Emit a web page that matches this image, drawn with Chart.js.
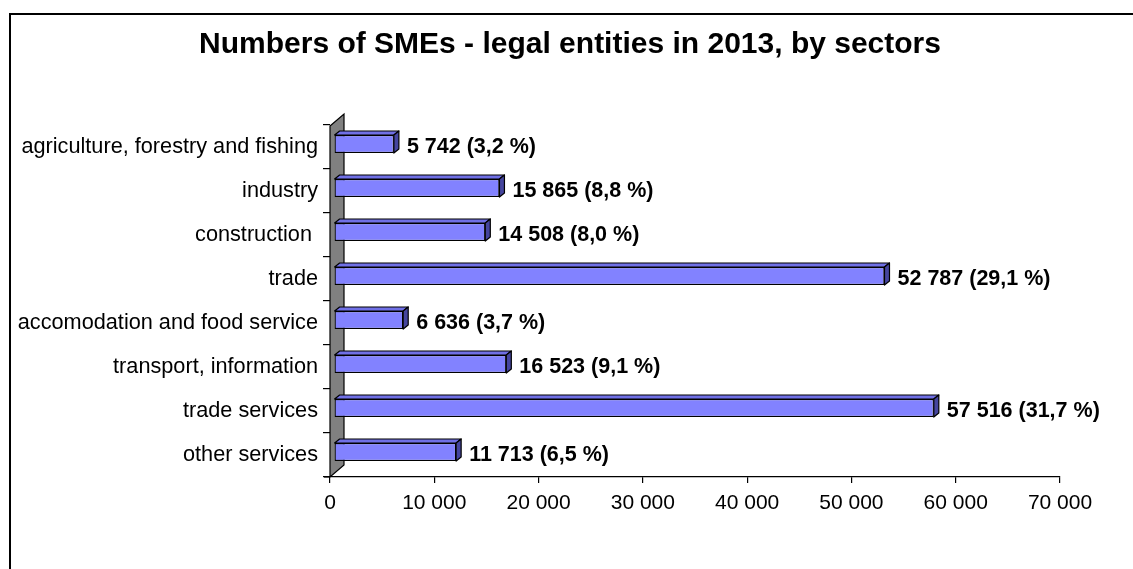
<!DOCTYPE html>
<html>
<head>
<meta charset="utf-8">
<script src="https://cdn.jsdelivr.net/npm/chart.js@4"></script>
<style>
    html, body { margin: 0; padding: 0; background: #fff; }
    #wrap { width: 1133px; height: 569px; }
</style>
</head>
<body>
<div id="wrap"><canvas id="smeChart" width="1133" height="569"></canvas></div>
<script>
const title = 'Numbers of SMEs - legal entities in 2013, by sectors';
const sectors = [
    'agriculture, forestry and fishing',
    'industry',
    'construction ',
    'trade',
    'accomodation and food service',
    'transport, information',
    'trade services',
    'other services'
];
const counts = [5742, 15865, 14508, 52787, 6636, 16523, 57516, 11713];
const shares = [3.2, 8.8, 8.0, 29.1, 3.7, 9.1, 31.7, 6.5];
const axisMax = 70000;
const axisStep = 10000;

const FONT = '"Liberation Sans", Arial, sans-serif';
const DEPTH = { x: 5, y: -4 };      // bar 3d depth
const WALL = { x: 14, y: -12 };     // back wall depth
const SHIFT = { x: 4, y: -3 };      // bars sit inside the wall depth

function fmtNum(v) {
    return String(v).replace(/\B(?=(\d{3})+(?!\d))/g, ' ');
}

function fmtLabel(i) {
    return fmtNum(counts[i]) + ' (' + shares[i].toFixed(1).replace('.', ',') + ' %)';
}

const framePlugin = {
    id: 'frame',
    beforeDraw(chart) {
        const ctx = chart.ctx;
        ctx.save();
        ctx.fillStyle = '#fff';
        ctx.fillRect(0, 0, chart.width, chart.height);
        ctx.lineWidth = 2;
        ctx.strokeStyle = '#000';
        ctx.strokeRect(10, 14, chart.width + 100, chart.height + 100);
        ctx.fillStyle = '#000';
        ctx.font = 'bold 30px ' + FONT;
        ctx.textAlign = 'center';
        ctx.textBaseline = 'middle';
        ctx.fillText(title, 570, 45);
        ctx.restore();
    }
};

const bar3dPlugin = {
    id: 'bar3d',
    beforeDatasetsDraw(chart) {
        const ctx = chart.ctx;
        const area = chart.chartArea;
        const x0 = chart.scales.x.getPixelForValue(0);
        ctx.save();
        // grey back wall
        ctx.beginPath();
        ctx.moveTo(x0, area.top + 1);
        ctx.lineTo(x0 + WALL.x, area.top + 1 + WALL.y);
        ctx.lineTo(x0 + WALL.x, area.bottom + WALL.y);
        ctx.lineTo(x0, area.bottom);
        ctx.closePath();
        ctx.fillStyle = '#808080';
        ctx.fill();
        ctx.lineWidth = 1.2;
        ctx.strokeStyle = '#000';
        ctx.stroke();
        // little stub of the floor line left of the wall
        ctx.beginPath();
        ctx.moveTo(x0 - 6, area.bottom);
        ctx.lineTo(x0, area.bottom);
        ctx.stroke();
        ctx.restore();

        ctx.save();
        ctx.translate(SHIFT.x, SHIFT.y);
    },
    afterDatasetsDraw(chart) {
        const ctx = chart.ctx;
        const meta = chart.getDatasetMeta(0);
        ctx.lineWidth = 1.2;
        ctx.strokeStyle = '#000';
        ctx.lineJoin = 'round';
        meta.data.forEach(bar => {
            const left = Math.min(bar.base, bar.x);
            const right = Math.max(bar.base, bar.x);
            const top = bar.y - bar.height / 2;
            const bottom = bar.y + bar.height / 2;

            ctx.beginPath();
            ctx.moveTo(left, top);
            ctx.lineTo(left + DEPTH.x, top + DEPTH.y);
            ctx.lineTo(right + DEPTH.x, top + DEPTH.y);
            ctx.lineTo(right, top);
            ctx.closePath();
            ctx.fillStyle = '#7070E6';
            ctx.fill();
            ctx.stroke();

            ctx.beginPath();
            ctx.moveTo(right, top);
            ctx.lineTo(right + DEPTH.x, top + DEPTH.y);
            ctx.lineTo(right + DEPTH.x, bottom + DEPTH.y);
            ctx.lineTo(right, bottom);
            ctx.closePath();
            ctx.fillStyle = '#45459E';
            ctx.fill();
            ctx.stroke();
        });
        ctx.restore();

        ctx.save();
        ctx.fillStyle = '#000';
        ctx.font = 'bold 21.5px ' + FONT;
        ctx.textAlign = 'left';
        ctx.textBaseline = 'middle';
        meta.data.forEach((bar, i) => {
            ctx.fillText(fmtLabel(i), bar.x + 17, bar.y);
        });
        ctx.restore();
    }
};

const ctx = document.getElementById('smeChart').getContext('2d');
new Chart(ctx, {
    type: 'bar',
    data: {
        labels: sectors,
        datasets: [{
            data: counts,
            backgroundColor: '#8282FF',
            borderColor: '#000',
            borderWidth: 1.2,
            borderSkipped: false,
            categoryPercentage: 1,
            barPercentage: 0.41
        }]
    },
    options: {
        indexAxis: 'y',
        responsive: false,
        animation: false,
        events: [],
        layout: { padding: { top: 125, left: 10, right: 73, bottom: 0 } },
        plugins: {
            legend: { display: false },
            title: { display: false },
            tooltip: { enabled: false }
        },
        scales: {
            x: {
                min: 0,
                max: axisMax,
                afterFit: s => { s.height = 92; },
                ticks: {
                    stepSize: axisStep,
                    color: '#000',
                    padding: 8,
                    font: { family: FONT, size: 21 },
                    callback: v => fmtNum(v)
                },
                grid: { drawOnChartArea: false, tickLength: 6, color: '#000', lineWidth: 1.2 },
                border: { display: true, color: '#000', width: 1.2 }
            },
            y: {
                afterFit: s => { s.width = 320; },
                ticks: {
                    autoSkip: false,
                    color: '#000',
                    padding: 5,
                    font: { family: FONT, size: 21.7 }
                },
                grid: { drawOnChartArea: false, offset: true, tickLength: 7, color: '#000', lineWidth: 1.2 },
                border: { display: false }
            }
        }
    },
    plugins: [framePlugin, bar3dPlugin]
});
</script>
</body>
</html>
